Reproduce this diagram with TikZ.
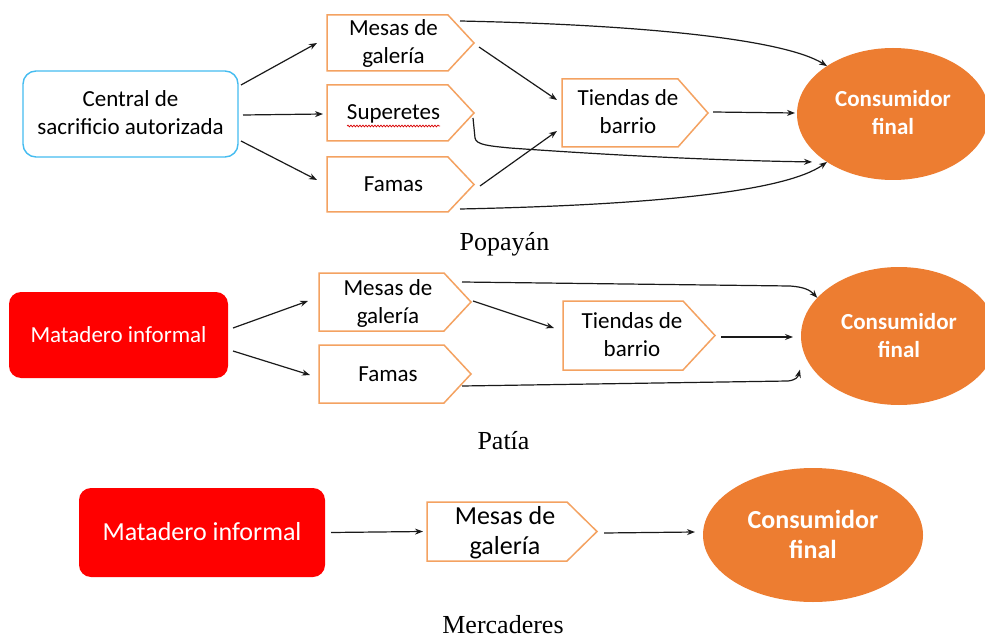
\documentclass[tikz,border=0pt]{standalone}
\usepackage{fontspec}
\newfontfamily\calib{Carlito}
\newfontfamily\tms{Liberation Serif}
\usetikzlibrary{arrows.meta,shapes.geometric,decorations.pathmorphing}
\definecolor{pentor}{HTML}{F4A261}
\definecolor{consor}{HTML}{ED7D31}
\definecolor{cyanb}{HTML}{45BCF0}
\definecolor{matred}{HTML}{FF0000}
\definecolor{arrcol}{HTML}{1A1A1A}
\newcommand\strA{\rule[-7pt]{0pt}{28pt}}
\newcommand\strB{\rule[-7pt]{0pt}{30pt}}
\tikzset{
  arr/.style={draw=arrcol, line width=1.2pt, -{Stealth[length=8pt,width=6pt]}},
  pentline/.style={draw=pentor, line width=1.5pt, fill=white, line join=miter},
  pentarea/.style={rectangle, inner sep=0pt, outer sep=0pt, draw=none},
  txtA/.style={align=center, inner sep=0pt, text=black, font=\calib\fontsize{23}{28}\selectfont},
  txtB/.style={align=center, inner sep=0pt, text=black, font=\calib\fontsize{26}{30}\selectfont},
  consA/.style={ellipse, fill=consor, text=white, inner sep=0pt, outer sep=0pt, align=center,
    font=\calib\bfseries\fontsize{23}{28}\selectfont},
  consB/.style={consA, font=\calib\bfseries\fontsize{26}{30}\selectfont},
  centralbox/.style={rectangle, rounded corners=13pt, draw=cyanb, line width=1.4pt, fill=white,
    align=center, inner sep=0pt, outer sep=0pt, font=\calib\fontsize{23}{28}\selectfont},
  matbox/.style={rectangle, rounded corners=12pt, fill=matred, text=white, align=center,
    inner sep=0pt, outer sep=0pt},
  caption/.style={anchor=base, inner sep=0pt, font=\tms\fontsize{26}{30}\selectfont}
}
\newcommand\pent[8]{%
  \draw[pentline] (#2,#3) -- (#4,#3) -- (#5,{(#3+#6)/2}) -- (#4,#6) -- (#2,#6) -- cycle;
  \node[pentarea, minimum width={(#5-#2)*1pt}, minimum height={(#6-#3)*1pt}] (#1) at ({(#2+#5)/2},{(#3+#6)/2}) {};
  \node[#7] (#1-t) at ({(#2+#5)/2-7},{(#3+#6)/2}) {#8};}
\begin{document}
\begin{tikzpicture}[x=1pt,y=-1pt]
\useasboundingbox (0,0) rectangle (985,639);
\fill[white] (0,0) rectangle (985,639);

% ---------------- Popayán ----------------
\node[centralbox, minimum width=215pt, minimum height=86pt] (c1) at (130.5,114)
  {\strA Central de\\\strA sacrificio autorizada};
\pent{m1}{327}{15}{448}{474}{71}{txtA}{\strA Mesas de\\\strA galería}
\pent{s1}{327}{85}{448}{474}{141}{txtA}{\strA Superetes}
\pent{f1}{327}{157}{448}{474}{212}{txtA}{\strA Famas}
\pent{t1}{562}{79}{678}{708}{147}{txtA}{\strA Tiendas de\\\strA barrio}
\node[consA, minimum width=192pt, minimum height=132pt] (e1) at (893,114)
  {\strA Consumidor\\\strA final};
\draw[red!85!black, line width=0.7pt, decorate,
  decoration={snake, amplitude=0.9pt, segment length=3pt}] (347,126) -- (440,126);

\draw[arr] ([shift={(3,-29)}]c1.east) -- ([shift={(-10,0)}]m1.west);
\draw[arr] ([shift={(5,1)}]c1.east) -- ([shift={(-4,1)}]s1.west);
\draw[arr] ([shift={(3,27)}]c1.east) -- ([shift={(-10,-4.5)}]f1.west);
\draw[arr] ([shift={(-14,6)}]m1.north east) .. controls (650,25) and (785,40) .. (e1.144);
\draw[arr] ([shift={(5,4)}]m1.east) -- ([shift={(-5,-13)}]t1.west);
\draw[arr] ([shift={(-1,5)}]s1.east) -- (475,138) .. controls (476,145) and (490,146) .. (510,148)
  .. controls (650,158) and (750,161) .. ([shift={(-15,0)}]e1.216);
\draw[arr] ([shift={(6,1.5)}]f1.east) -- ([shift={(-5,18)}]t1.west);
\draw[arr] ([shift={(5,-1)}]t1.east) -- ([shift={(-2,-1)}]e1.west);
\draw[arr] ([shift={(-14,-3)}]f1.south east) .. controls (650,205) and (785,192) .. (e1.216);

\node[caption] (cap1) at (504.5,250) {Popayán};

% ---------------- Patía ----------------
\node[matbox, minimum width=219pt, minimum height=86pt, font=\calib\fontsize{23}{28}\selectfont]
  (mat2) at (118.5,335) {\strA Matadero informal};
\pent{m2}{319}{273}{444}{471}{331}{txtA}{\strA Mesas de\\\strA galería}
\pent{f2}{319}{345}{444}{471}{403}{txtA}{\strA Famas}
\pent{t2}{563}{301}{683}{715}{370}{txtA}{\strA Tiendas de\\\strA barrio}
\node[consA, minimum width=196pt, minimum height=138pt] (e2) at (899,336)
  {\strA Consumidor\\\strA final};

\draw[arr] ([shift={(5,-7)}]mat2.east) -- ([shift={(-11,-1)}]m2.west);
\draw[arr] ([shift={(5,16)}]mat2.east) -- ([shift={(-9,1)}]f2.west);
\draw[arr] ([shift={(-9,9)}]m2.north east) -- (790,286) .. controls (804,287) and (810,290) .. (e2.155);
\draw[arr] ([shift={(2,-1)}]m2.east) -- ([shift={(-9,-7.5)}]t2.west);
\draw[arr] ([shift={(6,1.5)}]t2.east) -- ([shift={(-8,1)}]e2.west);
\draw[arr] ([shift={(-9,-17)}]f2.south east) -- (788,381) .. controls (796,380) and (798,377) .. ([shift={(-12,2)}]e2.200);

\node[caption] (cap2) at (503.5,449) {Patía};

% ---------------- Mercaderes ----------------
\node[matbox, minimum width=246pt, minimum height=89pt, font=\calib\fontsize{26}{30}\selectfont]
  (mat3) at (202,532.5) {\strB Matadero informal};
\pent{m3}{427}{502}{567}{597}{561}{txtB}{\strB Mesas de\\\strB galería}
\node[consB, minimum width=220pt, minimum height=134pt] (e3) at (813,535)
  {\strB Consumidor\\\strB final};

\draw[arr] ([shift={(6,0)}]mat3.east) -- ([shift={(-4,0)}]m3.west);
\draw[arr] ([shift={(7,1.5)}]m3.east) -- ([shift={(-8,-3)}]e3.west);

\node[caption] (cap3) at (503,633) {Mercaderes};
\end{tikzpicture}
\end{document}
